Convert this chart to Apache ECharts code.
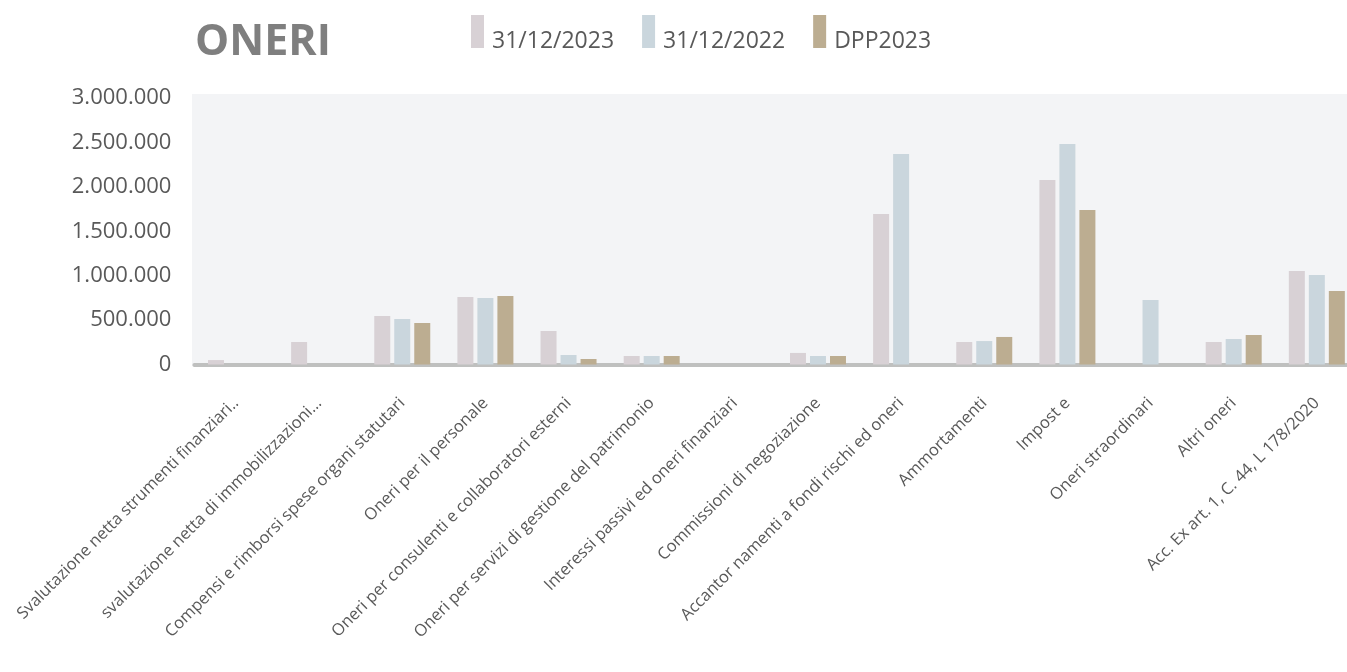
<!DOCTYPE html>
<html>
<head>
<meta charset="utf-8">
<title>ONERI</title>
<script src="https://cdn.jsdelivr.net/npm/echarts@6/dist/echarts.min.js"></script>
<style>
  html, body { margin: 0; padding: 0; background: #ffffff; }
  #chart { width: 1347px; height: 672px; }
</style>
</head>
<body>
<div id="chart"></div>
<script>
// Voci di costo
const categories = [
  'Svalutazione netta strumenti finanziari..',
  'svalutazione netta di immobilizzazioni...',
  'Compensi e rimborsi spese organi statutari',
  'Oneri per il personale',
  'Oneri per consulenti e collaboratori esterni',
  'Oneri per servizi di gestione del patrimonio',
  'Interessi passivi ed oneri finanziari',
  'Commissioni di negoziazione',
  'Accantor namenti a fondi rischi ed oneri',
  'Ammortamenti',
  'Impost e',
  'Oneri straordinari',
  'Altri oneri',
  'Acc. Ex art. 1, C. 44, L 178/2020'
];

const seriesNames = ['31/12/2023', '31/12/2022', 'DPP2023'];

const values2023 = [50000, 253000, 546000, 759000, 377000, 96000, 0, 130000, 1695000, 253000, 2077000, 0, 253000, 1053000];
const values2022 = [0, 0, 512000, 748000, 107000, 96000, 0, 96000, 2370000, 264000, 2483000, 726000, 287000, 1008000];
const valuesDpp2023 = [0, 0, 467000, 771000, 62000, 96000, 0, 96000, 0, 310000, 1740000, 0, 332000, 828000];

const yTicks = [0, 500000, 1000000, 1500000, 2000000, 2500000, 3000000];

const colors = ['#d8d1d5', '#cad6dd', '#bcad91'];

function formatThousands(v) {
  return String(Math.round(v)).replace(/\B(?=(\d{3})+(?!\d))/g, '.');
}

const chart = echarts.init(document.getElementById('chart'), null, { renderer: 'canvas' });

const seriesData = [values2023, values2022, valuesDpp2023];

chart.setOption({
  animation: false,
  backgroundColor: '#ffffff',
  color: colors,
  title: {
    text: 'ONERI',
    left: 195,
    top: 21,
    padding: 0,
    textStyle: {
      fontFamily: 'Open Sans',
      fontWeight: 'bold',
      fontSize: 43,
      color: '#7f7f7f'
    }
  },
  legend: {
    left: 471,
    top: 15,
    padding: 0,
    icon: 'rect',
    itemWidth: 13,
    itemHeight: 33,
    itemGap: 28,
    data: seriesNames,
    formatter: name => '{t|' + name + '}',
    textStyle: {
      fontFamily: 'Open Sans',
      fontSize: 23,
      color: '#595959',
      rich: {
        t: {
          fontFamily: 'Open Sans',
          fontSize: 23,
          color: '#595959',
          padding: [20, 0, 0, 3]
        }
      }
    }
  },
  graphic: [{
    type: 'rect',
    z: -10,
    silent: true,
    shape: { x: 192, y: 94, width: 1155, height: 272 },
    style: { fill: '#f3f4f6' }
  }],
  grid: {
    left: 194.4,
    top: 98,
    width: 1164,
    bottom: 307.5,
    containLabel: false,
    outerBoundsMode: 'none'
  },
  xAxis: {
    type: 'category',
    data: categories,
    axisLine: { show: true, lineStyle: { color: '#bfc0bf', width: 4 } },
    axisTick: { show: false },
    axisLabel: {
      interval: 0,
      rotate: 45,
      margin: 36,
      fontFamily: 'Open Sans',
      fontSize: 16.5,
      color: '#595959'
    }
  },
  yAxis: {
    type: 'value',
    min: yTicks[0],
    max: yTicks[yTicks.length - 1],
    interval: yTicks[1] - yTicks[0],
    axisLine: { show: false },
    axisTick: { show: false },
    splitLine: { show: false },
    axisLabel: {
      margin: 23,
      fontFamily: 'Open Sans',
      fontSize: 22,
      color: '#595959',
      formatter: formatThousands
    }
  },
  series: seriesNames.map((name, i) => ({
    name: name,
    type: 'bar',
    data: seriesData[i],
    barWidth: 16,
    barGap: '25%',
    itemStyle: { color: colors[i] }
  }))
});
</script>
</body>
</html>
